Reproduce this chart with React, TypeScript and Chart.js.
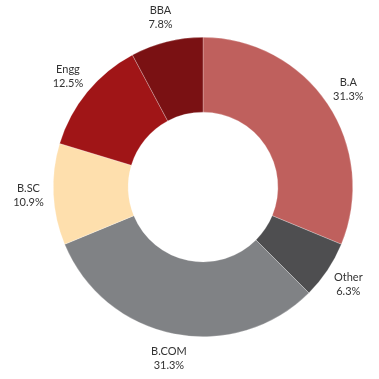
import React, { useEffect, useRef } from "react";
import { Chart, registerables } from "chart.js";

Chart.register(...registerables);

const categories = ["B.A", "Other", "B.COM", "B.SC", "Engg", "BBA"];
const values = [20, 4, 20, 7, 8, 5];
const percentLabels = ["31.3%", "6.3%", "31.3%", "10.9%", "12.5%", "7.8%"];
const colors = ["#BF605D", "#4E4E50", "#808285", "#FEDFAD", "#A01517", "#7A1113"];

const outsideLabels = {
  id: "outsideLabels",
  afterDatasetsDraw(chart: any) {
    const ctx = chart.ctx;
    const meta = chart.getDatasetMeta(0);
    ctx.save();
    ctx.font = "11px Lato, 'Noto Sans', sans-serif";
    ctx.fillStyle = "#333333";
    ctx.textAlign = "center";
    ctx.textBaseline = "middle";
    meta.data.forEach((arc: any, i: number) => {
      const { x, y, startAngle, endAngle, outerRadius } = arc.getProps(
        ["x", "y", "startAngle", "endAngle", "outerRadius"],
        true
      );
      const mid = (startAngle + endAngle) / 2;
      const r = outerRadius + 25;
      const cx = x + Math.cos(mid) * r;
      const cy = y + Math.sin(mid) * r;
      ctx.fillText(categories[i], cx, cy - 7);
      ctx.fillText(percentLabels[i], cx, cy + 7);
    });
    ctx.restore();
  },
};

export default function App() {
  const ref = useRef<HTMLCanvasElement | null>(null);
  useEffect(() => {
    if (!ref.current) return;
    const chart = new Chart(ref.current, {
      type: "doughnut",
      data: {
        labels: categories,
        datasets: [
          {
            data: values,
            backgroundColor: colors,
            borderColor: "rgba(255,255,255,0.5)",
            borderWidth: 0.5,
          },
        ],
      },
      options: {
        animation: false,
        responsive: false,
        cutout: "50%",
        layout: { padding: { left: 52, right: 25, top: 37, bottom: 42 } },
        plugins: {
          legend: { display: false },
          tooltip: { enabled: false },
        },
      },
      plugins: [outsideLabels],
    });
    return () => chart.destroy();
  }, []);
  return (
    <div style={{ position: "fixed", left: 0, top: 0, width: 379, height: 379, background: "#fff" }}>
      <canvas ref={ref} width={379} height={379} />
    </div>
  );
}
